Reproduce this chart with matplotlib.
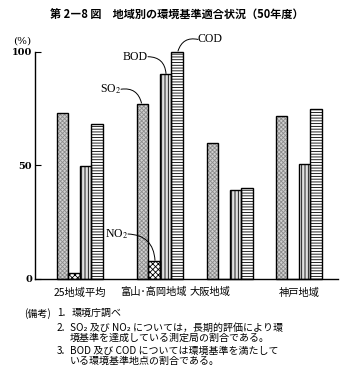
import matplotlib
matplotlib.use("Agg")
import matplotlib.pyplot as plt
import numpy as np

plt.rcParams['font.family'] = ['Noto Sans CJK JP', 'DejaVu Sans']
plt.rcParams['mathtext.fontset'] = 'stix'
plt.rcParams['hatch.linewidth'] = 0.6

# ---- data ----
categories = ["25地域平均", "富山･高岡地域", "大阪地域", "神戸地域"]
series_names = ["SO$_2$", "NO$_2$", "BOD", "COD"]
so2 = [73, 77, 60, 71.5]
no2 = [2.5, 8, 0, 0]
bod = [49.5, 90, 39, 50.5]
cod = [68, 100, 40, 75]
yticks = [0, 50, 100]

# ---- layout ----
W, H = 353, 386
fig = plt.figure(figsize=(W / 100, H / 100), dpi=100)
ax = fig.add_axes([35 / W, (H - 279) / H, 303 / W, 227.3 / H])

group_x = np.array([45, 125, 195, 264])
offsets = [-17.5, -6, 5.5, 17]
width = 11.5
styles = [
    dict(face="#cfcfcf", hatch="xxxxxxxx", hcolor="#8c8c8c"),
    dict(face="white", hatch="xxxxxx", hcolor="black"),
    dict(face="#e0e0e0", hatch="|||||", hcolor="black"),
    dict(face="white", hatch="------", hcolor="black"),
]
series = [so2, no2, bod, cod]
for vals, off, st in zip(series, offsets, styles):
    xs = group_x + off
    ax.bar(xs, vals, width=width, color=st["face"], hatch=st["hatch"],
           edgecolor=st["hcolor"], linewidth=0, clip_on=False, zorder=2)
    ax.bar(xs, vals, width=width, fill=False, edgecolor="black",
           linewidth=1.0, clip_on=False, zorder=3)

ax.set_xlim(0, 303)
ax.set_ylim(0, 100)
for s in ["top", "right"]:
    ax.spines[s].set_visible(False)
ax.spines["left"].set_linewidth(1.0)
ax.spines["bottom"].set_linewidth(1.0)
ax.set_yticks(yticks)
ax.set_yticklabels([str(v) for v in yticks], family="DejaVu Serif",
                   fontsize=7, fontweight="bold")
ax.tick_params(axis="y", direction="in", length=4, width=0.8, pad=2)

label_x = [45, 118, 175, 264]
ax.set_xticks(label_x)
ax.set_xticklabels(categories, fontsize=7.4)
ax.tick_params(axis="x", length=0, pad=6)

# annotations
ann_font = dict(family="Liberation Serif", fontsize=8.5)
def note(txt, xy, xytext, ha, rad):
    rel = (1, 0.5) if ha == "right" else (0, 0.5)
    ax.annotate(txt, xy=xy, xytext=xytext, ha=ha, va="center",
                annotation_clip=False,
                arrowprops=dict(arrowstyle="-", lw=0.7, shrinkA=0, shrinkB=0,
                                relpos=rel, patchA=None,
                                connectionstyle="arc3,rad=%s" % rad),
                **ann_font)

note(series_names[0], (106.5, 77.4), (86, 83.5), "right", -0.45)
note(series_names[1], (120, 8.2), (93, 19.8), "right", -0.45)
note(series_names[2], (131, 90.4), (113, 97.8), "right", -0.45)
note(series_names[3], (143, 100.3), (163, 105.4), "left", 0.45)

# title and unit
fig.text(177 / W, 1 - 15 / H, "第 2―8 図　地域別の環境基準適合状況（50年度）",
         ha="center", va="center", fontsize=8, fontweight="bold")
fig.text(22 / W, 1 - 41 / H, "(%)", ha="center", va="center",
         family="DejaVu Serif", fontsize=7.5)

# footnotes
fs = 7.2
def ft(x, y, s, **kw):
    fig.text(x / W, 1 - y / H, s, ha="left", va="top", fontsize=fs, **kw)

ft(24, 308, "(備考)")
ft(57, 308, "1.")
ft(72, 308, "環境庁調べ")
ft(57, 323, "2.")
ft(70, 323, "SO₂ 及び NO₂ については，長期的評価により環\n"
            "境基準を達成している測定局の割合である。", linespacing=1.0)
ft(57, 346, "3.")
ft(70, 346, "BOD 及び COD については環境基準を満たして\n"
            "いる環境基準地点の割合である。", linespacing=1.0)

fig.savefig("out.png", dpi=100, facecolor="white")
